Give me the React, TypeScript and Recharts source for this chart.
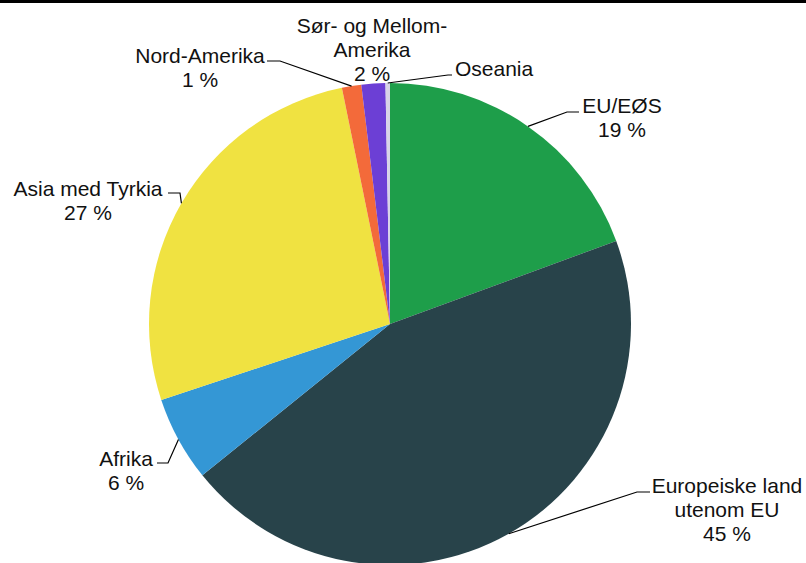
import { Cell, Pie, PieChart } from "recharts";

// share of total, percent, clockwise from 12 o'clock
const categories = [
  "EU/EØS",
  "Europeiske land utenom EU",
  "Afrika",
  "Asia med Tyrkia",
  "Nord-Amerika",
  "Sør- og Mellom-Amerika",
  "Oseania",
];
const shares = [19.4, 44.8, 5.7, 26.9, 1.3, 1.6, 0.3];
const colors = ["#1e9e4a", "#28434a", "#3497d5", "#f0e241", "#f36a3a", "#6c3fd5", "#d8d3e8"];

const data = categories.map((name, i) => ({ name, value: shares[i] }));

type LabelSpot = {
  lines: string[];
  x: number;
  y: number; // baseline of first line
  anchor: "start" | "middle" | "end";
  elbow?: [number, number];
  end?: [number, number];
};

// where each label sits and how its leader line bends
const labelSpots: Record<string, LabelSpot> = {
  "EU/EØS": { lines: ["EU/EØS"], x: 622, y: 113, anchor: "middle", elbow: [567, 112], end: [579, 112] },
  "Europeiske land utenom EU": {
    lines: ["Europeiske land", "utenom EU"],
    x: 727,
    y: 493,
    anchor: "middle",
    elbow: [637, 492],
    end: [650, 492],
  },
  Afrika: { lines: ["Afrika"], x: 126, y: 466, anchor: "middle", elbow: [168, 463], end: [157, 463] },
  "Asia med Tyrkia": { lines: ["Asia med Tyrkia"], x: 88, y: 196, anchor: "middle", elbow: [180, 193], end: [168, 193] },
  "Nord-Amerika": { lines: ["Nord-Amerika"], x: 200, y: 63, anchor: "middle", elbow: [280, 61], end: [267, 61] },
  "Sør- og Mellom-Amerika": { lines: ["Sør- og Mellom-", "Amerika"], x: 372, y: 33, anchor: "middle" },
  Oseania: { lines: ["Oseania"], x: 455, y: 76, anchor: "start", elbow: [448, 75], end: [452, 75] },
};

const RAD = Math.PI / 180;
const LINE_H = 24;

function renderLabel(props: any) {
  const { cx, cy, midAngle, outerRadius, name, value } = props;
  const spot = labelSpots[name];
  if (!spot) return null;
  const sx = cx + outerRadius * Math.cos(-midAngle * RAD);
  const sy = cy + outerRadius * Math.sin(-midAngle * RAD);
  const pct = Math.round(value);
  const lines = pct > 0 ? [...spot.lines, `${pct} %`] : spot.lines;
  return (
    <g>
      {spot.elbow && spot.end ? (
        <polyline
          points={`${sx},${sy} ${spot.elbow[0]},${spot.elbow[1]} ${spot.end[0]},${spot.end[1]}`}
          fill="none"
          stroke="#000"
          strokeWidth={1.2}
        />
      ) : null}
      <text x={spot.x} y={spot.y} textAnchor={spot.anchor} fill="#111" fontSize={21} fontFamily="'Liberation Sans', Arial, sans-serif">
        {lines.map((l, i) => (
          <tspan key={i} x={spot.x} y={spot.y + i * LINE_H}>
            {l}
          </tspan>
        ))}
      </text>
    </g>
  );
}

export default function App() {
  return (
    <div style={{ position: "absolute", left: 0, top: 0, width: 806, height: 563, background: "#fff", overflow: "hidden" }}>
      <div style={{ position: "absolute", left: 0, top: 0, width: 806, height: 3, background: "#000" }} />
      <PieChart width={806} height={563} margin={{ top: 0, right: 0, bottom: 0, left: 0 }}>
        <Pie
          data={data}
          dataKey="value"
          nameKey="name"
          cx={390}
          cy={324}
          outerRadius={241}
          startAngle={90}
          endAngle={-270}
          stroke="none"
          label={renderLabel}
          labelLine={false}
          isAnimationActive={false}
        >
          {data.map((d, i) => (
            <Cell key={d.name} fill={colors[i]} />
          ))}
        </Pie>
      </PieChart>
    </div>
  );
}
